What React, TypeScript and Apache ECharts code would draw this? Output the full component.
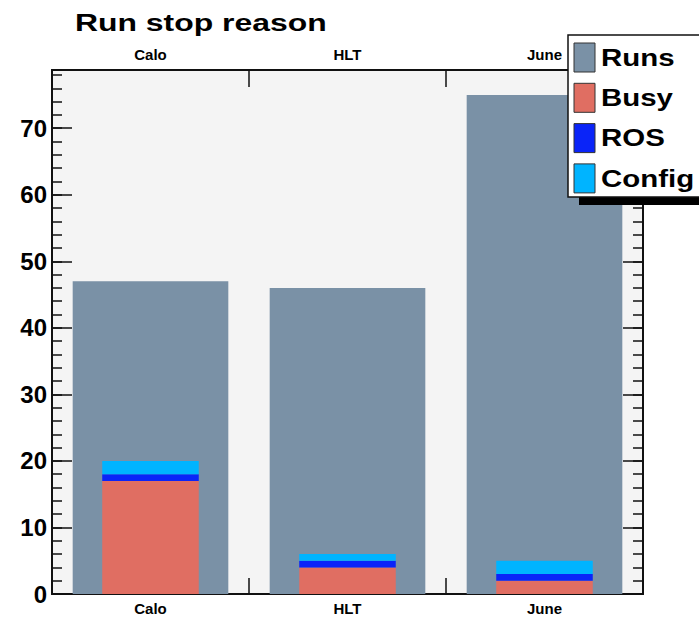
import React, { useEffect, useRef } from "react";
import * as echarts from "echarts";

const categories = ["Calo", "HLT", "June"];
const runs = [47, 46, 75];
const busy = [17, 4, 2];
const ros = [1, 1, 1];
const config = [2, 1, 2];
const legendNames = ["Runs", "Busy", "ROS", "Config"];
const colors = ["#7a91a6", "#e06e62", "#0a24f8", "#00b4ff"];
const yMax = 78.75;

const FONT = "Liberation Sans, Arial, Helvetica, sans-serif";

export default function App() {
  const ref = useRef<HTMLDivElement>(null);
  useEffect(() => {
    if (!ref.current) return;
    const chart = echarts.init(ref.current, null, { renderer: "svg" });
    const axisLine = { show: true, onZero: false, lineStyle: { color: "#111", width: 2 } };
    const yBase = (position: string, interval: number, len: number, labels: boolean) => ({
      type: "value",
      position,
      min: 0,
      max: yMax,
      interval,
      axisLine,
      axisTick: { show: true, inside: true, length: len, lineStyle: { color: "#111", width: 1.5 } },
      axisLabel: labels
        ? {
            show: true,
            margin: 5,
            color: "#000",
            fontSize: 24,
            fontWeight: "bold",
            fontFamily: FONT,
            showMaxLabel: false,
            formatter: (v: number) => (v % 10 === 0 ? String(v) : ""),
          }
        : { show: false },
      splitLine: { show: false },
    });

    const legendEls: any[] = [
      { type: "rect", z: 10, shape: { x: 579, y: 197, width: 140, height: 8 }, style: { fill: "#000" } },
      { type: "rect", z: 11, shape: { x: 568, y: 35, width: 140, height: 162 }, style: { fill: "#fff", stroke: "#111", lineWidth: 1.5 } },
    ];
    legendNames.forEach((n, i) => {
      legendEls.push({
        type: "rect",
        z: 12,
        shape: { x: 574, y: 43 + i * 40.3, width: 21, height: 29 },
        style: { fill: colors[i], stroke: "#333", lineWidth: 1 },
      });
      legendEls.push({
        type: "text",
        z: 12,
        x: 601,
        y: 58 + i * 40.3,
        scaleX: 1.28,
        style: { text: n, fill: "#000", font: `bold 23px ${FONT}`, verticalAlign: "middle", align: "left" },
      });
    });

    const option: any = {
      animation: false,
      backgroundColor: "#fff",
      grid: { left: 52, right: 56, top: 70, bottom: 23, show: true, backgroundColor: "#f4f4f4", borderWidth: 0 },
      xAxis: [
        {
          type: "category",
          position: "bottom",
          data: categories,
          axisLine,
          axisTick: { show: true, inside: true, length: 16, lineStyle: { color: "#111", width: 1.5 } },
          axisLabel: { margin: 7, color: "#000", fontSize: 15, fontWeight: "bold", fontFamily: FONT },
        },
        {
          type: "category",
          position: "top",
          data: categories,
          axisLine,
          axisTick: { show: true, inside: true, length: 17, lineStyle: { color: "#111", width: 1.5 } },
          axisLabel: { margin: 8, color: "#000", fontSize: 15, fontWeight: "bold", fontFamily: FONT },
        },
      ],
      yAxis: [
        yBase("left", 10, 20, true),
        yBase("left", 2, 10, false),
        yBase("right", 10, 20, false),
        yBase("right", 2, 10, false),
      ],
      series: [
        { name: "Runs", type: "bar", xAxisIndex: 0, yAxisIndex: 0, data: runs, barWidth: "79%", itemStyle: { color: colors[0] } },
        { name: "Busy", type: "bar", xAxisIndex: 1, yAxisIndex: 0, stack: "s", data: busy, barWidth: "49%", itemStyle: { color: colors[1] } },
        { name: "ROS", type: "bar", xAxisIndex: 1, yAxisIndex: 0, stack: "s", data: ros, barWidth: "49%", itemStyle: { color: colors[2] } },
        { name: "Config", type: "bar", xAxisIndex: 1, yAxisIndex: 0, stack: "s", data: config, barWidth: "49%", itemStyle: { color: colors[3] } },
      ],
      graphic: [
        {
          type: "text",
          x: 75,
          y: 23,
          scaleX: 1.33,
          z: 10,
          style: { text: "Run stop reason", fill: "#000", font: `bold 24px ${FONT}`, verticalAlign: "middle", align: "left" },
        },
        ...legendEls,
      ],
    };
    chart.setOption(option);
    return () => chart.dispose();
  }, []);
  return (
    <div
      ref={ref}
      style={{ position: "absolute", left: 0, top: 0, width: 699, height: 617, background: "#fff" }}
    />
  );
}
